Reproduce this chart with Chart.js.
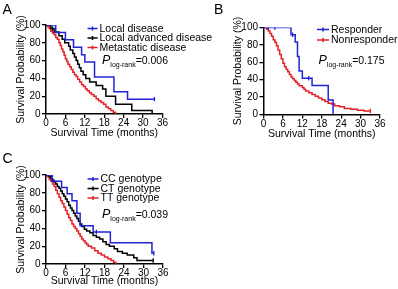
<!DOCTYPE html>
<html><head><meta charset="utf-8">
<script src="https://cdn.jsdelivr.net/npm/chart.js@4.4.1/dist/chart.umd.min.js"></script>
<style>
html,body{margin:0;padding:0;background:#fff;}
#wrap{position:relative;width:398px;height:289px;overflow:hidden;background:#fff;}
canvas{position:absolute;left:0;top:0;}
</style></head><body><div id="wrap">
<canvas id="cA" width="398" height="289"></canvas>
<canvas id="cB" width="398" height="289"></canvas>
<canvas id="cC" width="398" height="289"></canvas>
</div>
<script>
// ---------- data (time in months, survival in %) ----------
const xTicks = [0, 6, 12, 18, 24, 30, 36];
const yTicks = [0, 20, 40, 60, 80, 100];

// Panel A
const aLabels = ['Local disease', 'Local advanced disease', 'Metastatic disease'];
const aLocal = [[0,100],[3,91.7],[6,83.3],[8.5,75],[11,66.7],[12,58.3],[15,41.7],[21,25],[25.2,16.7],[33.5,16.7]];
const aLocalCens = [[33.5,16.7]];
const aAdvanced = [[0,100],[1.5,96],[2.5,92],[4,88],[5,84],[5.8,80],[7,76],[7.5,72],[8.3,68],[8.8,64],[9.3,60],[9.8,56],[10.3,52],[10.8,48],[11.5,44],[12.3,40],[13.5,36],[15.5,32],[17.5,28],[18.5,20],[21.5,11],[26.5,4],[32.8,0]];
const aAdvancedCens = [[2,96]];
const aMetastatic = [[0,100],[0.5,98],[1,96],[1.5,93],[2,91],[2.5,89],[3,86],[3.5,84],[4,80],[4.4,77],[4.8,73],[5.2,70],[5.6,66],[6,62],[6.4,59],[6.8,56],[7.3,53],[7.8,50],[8.3,47],[8.8,44],[9.3,42],[9.8,39],[10.4,36],[11,33],[11.6,31],[12.2,28],[12.8,26],[13.4,24],[14,22],[14.8,20],[15.5,17],[16.2,15],[17,13],[17.8,11],[18.5,8],[19.3,6],[20,4],[20.8,2],[21.5,0]];
const aP = '=0.006';

// Panel B
const bLabels = ['Responder', 'Nonresponder'];
const bResponder = [[0,100],[8.5,91.7],[9.8,83.3],[10.5,66.7],[11,50],[12,41.7],[15,33.3],[20,16.7],[21.5,0]];
const bResponderCens = [[1.5,100],[3.5,100],[9,91.7],[14,41.7]];
const bNonresponder = [[0,100],[1,98],[1.5,96],[2,93],[2.5,90],[3,86],[3.5,83],[4,79],[4.5,74],[5,69],[5.5,64],[6,59],[6.5,55],[7,52],[7.5,49],[8,46],[8.5,43],[9,41],[9.5,39],[10,37],[10.5,35],[11,33],[12,31],[12.5,29],[13,27],[14,25],[15,23],[16,21],[17,19],[18,17],[19,15],[20,13],[21,12],[22,10],[23.5,9],[25,7],[27,6],[29,5],[31,4],[33,4]];
const bNonresponderCens = [[33,4]];
const bP = '=0.175';

// Panel C
const cLabels = ['CC genotype', 'CT genotype', 'TT genotype'];
const cCC = [[0,100],[1.8,93],[4.8,86],[6.5,79],[8,71],[9.5,57],[10.5,43],[14.5,36],[19.8,24],[32.6,12],[33.2,12]];
const cCCCens = [[2,100],[15.5,36],[33.2,12]];
const cCT = [[0,100],[1,98],[1.5,96],[2,94],[2.5,92],[3,90],[3.5,87],[4,85],[4.5,82],[5,79],[5.5,76],[6,73],[6.5,70],[7,66],[7.5,63],[8,60],[8.5,57],[9,54],[9.5,51],[10,48],[10.5,45],[11,42],[11.8,39],[12.5,37],[13.5,35],[14.5,32],[15.5,30],[16.5,28],[17.5,25],[18.5,22],[19.5,20],[21,17],[22,14],[23.5,12],[25,10],[27,7],[28,4],[33,4]];
const cCTCens = [[33,4]];
const cTT = [[0,100],[0.5,98],[1,95],[1.5,93],[2,90],[2.5,87],[3,83],[3.5,79],[4,75],[4.5,71],[5,68],[5.5,64],[6,60],[6.5,56],[7,52],[7.5,49],[8,45],[8.5,42],[9,40],[9.5,37],[10,34],[10.5,31],[11,28],[11.5,26],[12,24],[12.5,22],[13,20],[14,18],[15,15],[16,12],[17,10],[18,8],[19,6],[20,4],[20.8,2],[21.5,0]];
const cP = '=0.039';

// ---------- styling ----------
const BLUE = '#2323d6', BLACK = '#000000', RED = '#e2232a';
const FONT = '"Liberation Sans", Arial, sans-serif';
const xTitle = 'Survival Time (months)';
const yTitle = 'Survival Probability (%)';

const toPts = arr => arr.map(p => ({x: p[0], y: p[1]}));

function curve(label, pts, color) {
  return {type: 'line', label, data: toPts(pts), borderColor: color, backgroundColor: color,
    borderWidth: 1.5, stepped: 'before', pointRadius: 0, fill: false, order: 2};
}
function cens(pts, color) {
  return {type: 'scatter', label: '', data: toPts(pts), borderColor: color, backgroundColor: color,
    pointStyle: 'line', rotation: 90, pointRadius: 2.2, borderWidth: 1.3, order: 1, isCens: true};
}

const decor = {
  id: 'decor',
  afterDraw(chart, args, o) {
    const ctx = chart.ctx;
    ctx.save();
    ctx.fillStyle = '#000';
    ctx.textBaseline = 'alphabetic';
    ctx.textAlign = 'left';
    ctx.font = '14px ' + FONT;
    ctx.fillText(o.letter, o.letterX, o.letterY);
    const items = chart.data.datasets.filter(d => !d.isCens);
    ctx.font = '10.5px ' + FONT;
    ctx.textBaseline = 'middle';
    items.forEach((d, i) => {
      const y = o.legY + i * o.legDy;
      ctx.strokeStyle = d.borderColor;
      ctx.lineWidth = 1.5;
      ctx.beginPath();
      ctx.moveTo(o.legX, y); ctx.lineTo(o.legX + o.legW, y);
      ctx.moveTo(o.legX + o.legW / 2, y - 2); ctx.lineTo(o.legX + o.legW / 2, y + 2);
      ctx.stroke();
      ctx.fillStyle = '#000';
      ctx.fillText(d.label, o.legX + o.legW + 2, y + 0.5);
    });
    ctx.textBaseline = 'alphabetic';
    ctx.font = 'italic 12.5px ' + FONT;
    ctx.fillText('P', o.pX, o.pY);
    let x = o.pX + ctx.measureText('P').width;
    ctx.font = '7px ' + FONT;
    ctx.fillText('log-rank', x, o.pY + 3);
    x += ctx.measureText('log-rank').width;
    ctx.font = '10.5px ' + FONT;
    ctx.fillText(o.pText, x, o.pY);
    ctx.restore();
  }
};

function makeChart(id, datasets, area, deco) {
  const W = 398, H = 289, lh = 10.5 * 1.2;
  const padL = area.yTitleX - lh / 2;
  const padB = H - (area.xTitleY + lh / 2);
  return new Chart(document.getElementById(id), {
    data: {datasets},
    plugins: [decor],
    options: {
      responsive: false, animation: false, devicePixelRatio: 1,
      layout: {padding: {left: padL, right: W - area.right, top: area.top, bottom: padB}},
      plugins: {legend: {display: false}, tooltip: {enabled: false}, title: {display: false}, decor: deco},
      scales: {
        x: {type: 'linear', min: 0, max: 36,
          afterBuildTicks: s => { s.ticks = xTicks.map(v => ({value: v})); },
          afterFit: s => { s.height = area.xTitleY + lh / 2 - area.bottom; },
          ticks: {autoSkip: false, maxRotation: 0, padding: 0, color: '#000', font: {family: FONT, size: 10, lineHeight: 1.1}},
          grid: {display: true, drawOnChartArea: false, drawTicks: true, tickLength: 4, color: '#000', lineWidth: 1.3},
          border: {display: true, color: '#000', width: 1.5},
          title: {display: true, text: xTitle, color: '#000', padding: 0, font: {family: FONT, size: 10.5, lineHeight: 1.2}}
        },
        y: {type: 'linear', min: 0, max: 100,
          afterBuildTicks: s => { s.ticks = yTicks.map(v => ({value: v})); },
          afterFit: s => { s.width = area.left - padL; },
          ticks: {autoSkip: false, padding: 1.5, color: '#000', font: {family: FONT, size: 10}},
          grid: {display: true, drawOnChartArea: false, drawTicks: true, tickLength: 4, color: '#000', lineWidth: 1.3},
          border: {display: true, color: '#000', width: 1.5},
          title: {display: true, text: yTitle, color: '#000', padding: 0, font: {family: FONT, size: 10.5, lineHeight: 1.2}}
        }
      }
    }
  });
}

makeChart('cA', [
  curve(aLabels[0], aLocal, BLUE), curve(aLabels[1], aAdvanced, BLACK), curve(aLabels[2], aMetastatic, RED),
  cens(aLocalCens, BLUE), cens(aAdvancedCens, BLACK)
], {left: 46, right: 162.5, top: 25, bottom: 114, yTitleX: 21.5, xTitleY: 133.5},
{letter: 'A', letterX: 2.5, letterY: 13.5, legX: 87.5, legW: 10, legY: 28.5, legDy: 9.5, pX: 102, pY: 63.5, pText: aP});

makeChart('cB', [
  curve(bLabels[0], bResponder, BLUE), curve(bLabels[1], bNonresponder, RED),
  cens(bResponderCens, BLUE), cens(bNonresponderCens, RED)
], {left: 263.5, right: 380, top: 27.5, bottom: 114.5, yTitleX: 238, xTitleY: 134},
{letter: 'B', letterX: 214, letterY: 13.5, legX: 317, legW: 12, legY: 29.5, legDy: 10.5, pX: 318.5, pY: 64, pText: bP});

makeChart('cC', [
  curve(cLabels[0], cCC, BLUE), curve(cLabels[1], cCT, BLACK), curve(cLabels[2], cTT, RED),
  cens(cCCCens, BLUE), cens(cCTCens, BLACK)
], {left: 46, right: 163, top: 175, bottom: 264, yTitleX: 21.5, xTitleY: 281.5},
{letter: 'C', letterX: 2.5, letterY: 163, legX: 87.5, legW: 11, legY: 179, legDy: 9.5, pX: 102, pY: 218, pText: cP});
</script>
</body></html>
